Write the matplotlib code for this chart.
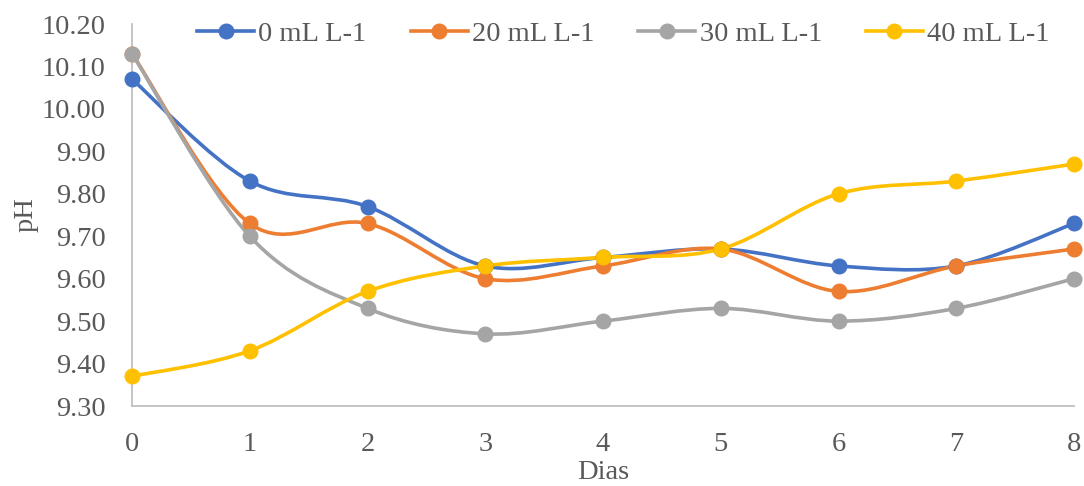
import numpy as np
import matplotlib
matplotlib.use("Agg")
import matplotlib.pyplot as plt
from matplotlib.path import Path
from matplotlib.patches import PathPatch
from matplotlib.lines import Line2D

# pH readings per day for each dose
dias = [0, 1, 2, 3, 4, 5, 6, 7, 8]
ph_0 = [10.07, 9.83, 9.77, 9.63, 9.65, 9.67, 9.63, 9.63, 9.73]
ph_20 = [10.13, 9.73, 9.73, 9.60, 9.63, 9.67, 9.57, 9.63, 9.67]
ph_30 = [10.13, 9.70, 9.53, 9.47, 9.50, 9.53, 9.50, 9.53, 9.60]
ph_40 = [9.37, 9.43, 9.57, 9.63, 9.65, 9.67, 9.80, 9.83, 9.87]

series_labels = ["0 mL L-1", "20 mL L-1", "30 mL L-1", "40 mL L-1"]
colors = ["#4472C4", "#ED7D31", "#A5A5A5", "#FFC000"]

y_ticks = [9.30, 9.40, 9.50, 9.60, 9.70, 9.80, 9.90, 10.00, 10.10, 10.20]

FONT = "Liberation Serif"
TXT = "#595959"


def smooth_path(x, y):
    """Cubic Bezier path through the points (Catmull-Rom style tangents)."""
    pts = np.column_stack([x, y]).astype(float)
    n = len(pts)
    verts = [pts[0]]
    codes = [Path.MOVETO]
    for i in range(n - 1):
        p0 = pts[i - 1] if i > 0 else pts[i]
        p1 = pts[i]
        p2 = pts[i + 1]
        p3 = pts[i + 2] if i + 2 < n else pts[i + 1]
        c1 = p1 + (p2 - p0) / 6.0
        c2 = p2 - (p3 - p1) / 6.0
        verts += [c1, c2, p2]
        codes += [Path.CURVE4] * 3
    return Path(verts, codes)


fig = plt.figure(figsize=(10.84, 4.86), dpi=100)
ax = fig.add_axes([132 / 1084, 1 - 406 / 486, (1074 - 132) / 1084, (406 - 24) / 486])

lw = 2.6
ms = 10.5
handles = []
for vals, col, lab in zip([ph_0, ph_20, ph_30, ph_40], colors, series_labels):
    patch = PathPatch(smooth_path(dias, vals), facecolor="none", edgecolor=col,
                      lw=lw, capstyle="round", joinstyle="round", clip_on=False)
    ax.add_patch(patch)
    ax.plot(dias, vals, linestyle="none", marker="o", ms=ms, color=col,
            markeredgecolor=col, clip_on=False, zorder=3)
    handles.append(Line2D([], [], color=col, lw=lw, marker="o", ms=ms, label=lab))

ax.set_xlim(0, 8)
ax.set_ylim(9.30, 10.20)
ax.set_xticks(dias)
ax.set_yticks(y_ticks)
ax.set_yticklabels([f"{v:.2f}" for v in y_ticks])
ax.tick_params(length=0, colors=TXT, labelsize=20.5)
ax.tick_params(axis="y", pad=19)
ax.tick_params(axis="x", pad=19)
for lbl in ax.get_xticklabels() + ax.get_yticklabels():
    lbl.set_fontfamily(FONT)

for side in ["top", "right"]:
    ax.spines[side].set_visible(False)
for side in ["left", "bottom"]:
    ax.spines[side].set_color("#BFBFBF")
    ax.spines[side].set_linewidth(1.3)

ax.set_xlabel("Dias", fontsize=20.5, color=TXT, fontfamily=FONT, labelpad=2)
ax.set_ylabel("pH", fontsize=20.5, color=TXT, fontfamily=FONT, labelpad=2)

fig.legend(handles=handles, loc="upper center", ncol=4, frameon=False,
           bbox_to_anchor=(0.575, 1.01),
           prop={"family": FONT, "size": 20.5}, labelcolor=TXT,
           handlelength=2.0, handletextpad=0.15, columnspacing=1.55)

fig.savefig("out.png", dpi=100)
